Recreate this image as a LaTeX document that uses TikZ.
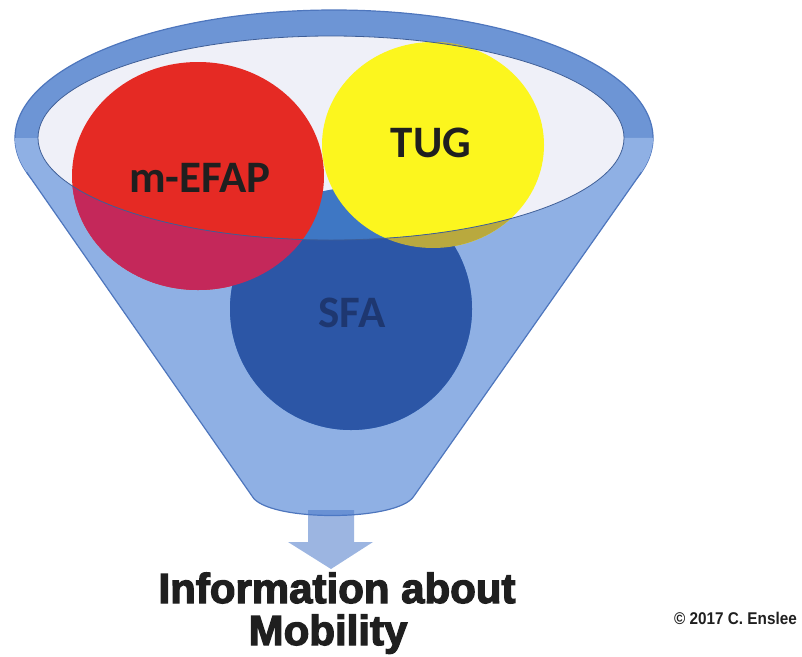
\documentclass[tikz,border=0pt]{standalone}
\usepackage{fontspec}
\newfontfamily\calfont{Carlito}
\newfontfamily\heavyfont[FakeBold=3]{Liberation Sans}
\newfontfamily\notefont[FakeStretch=0.9]{Liberation Sans}
\definecolor{rimblue}{HTML}{6D95D5}
\definecolor{rimedge}{HTML}{4E76BD}
\definecolor{bodyblue}{HTML}{8FB0E4}
\definecolor{opening}{HTML}{EFF0F8}
\definecolor{efapred}{HTML}{E52A24}
\definecolor{efapdim}{HTML}{C4285A}
\definecolor{tugyellow}{HTML}{FCF61E}
\definecolor{tugdim}{HTML}{B9A93E}
\definecolor{sfablue}{HTML}{3E77C4}
\definecolor{sfadim}{HTML}{2C56A6}
\definecolor{sfatext}{HTML}{1E3770}
\definecolor{arrowblue}{HTML}{4A78C8}
\begin{document}
\begin{tikzpicture}[x=1pt,y=-1pt,
  lbl/.style={font=\calfont\bfseries\fontsize{45}{45}\selectfont,text=black!88,inner sep=0pt,anchor=base},
  big/.style={font=\heavyfont\bfseries\fontsize{42}{42}\selectfont,text=black!88,inner sep=0pt,anchor=base},
  rim/.style={x radius=319,y radius=128}]
\useasboundingbox (0,0) rectangle (802,656);

% rim and funnel
\filldraw[fill=rimblue,draw=rimedge,line width=1.2pt] (334,138) ellipse (319 and 128);
\fill[bodyblue] (26.5,172) -- (252,496) .. controls (266,522) and (398,522) .. (414,496) -- (641.4,172.2)
      arc[rim,start angle=15.5,end angle=0] -- (15,138) arc[rim,start angle=180,end angle=164.6] -- cycle;
\draw[rimedge,line width=1.2pt] (26.5,172) -- (252,496) .. controls (266,522) and (398,522) .. (414,496) -- (641.4,172.2);
\fill[opening] (331,138) ellipse (293 and 102);

% circles
\fill[sfablue] (351,309) circle (121);
\fill[efapred] (198,176) ellipse (126 and 114);
\fill[tugyellow] (433,145) ellipse (111 and 103);

% front wall of the funnel
\begin{scope}[even odd rule]
  \clip (331,138) ellipse (293 and 102) (0,0) rectangle (802,656);
  \fill[sfadim] (351,309) circle (121);
  \fill[efapdim] (198,176) ellipse (126 and 114);
  \fill[tugdim] (433,145) ellipse (111 and 103);
\end{scope}
\draw[rimedge!80!black,line width=0.8pt] (331,138) ellipse (293 and 102);

% arrow out
\fill[arrowblue,opacity=0.55] (308,510) -- (354,510) -- (354,542) -- (373,542) -- (331,569)
      -- (288,542) -- (308,542) -- cycle;

% labels
\node[lbl] (mefap) at (200,192) {m-EFAP};
\node[lbl] (tug) at (431,157) {TUG};
\node[lbl,text=sfatext] (sfa) at (352,327) {SFA};
\node[big] (info) at (337,603) {Information about};
\node[big] (mobility) at (328,645) {Mobility};
\node[font=\notefont\bfseries\fontsize{17}{17}\selectfont,text=black!88,inner sep=0pt,anchor=base east]
      (note) at (797,624) {© 2017 C. Enslee};
\end{tikzpicture}
\end{document}
